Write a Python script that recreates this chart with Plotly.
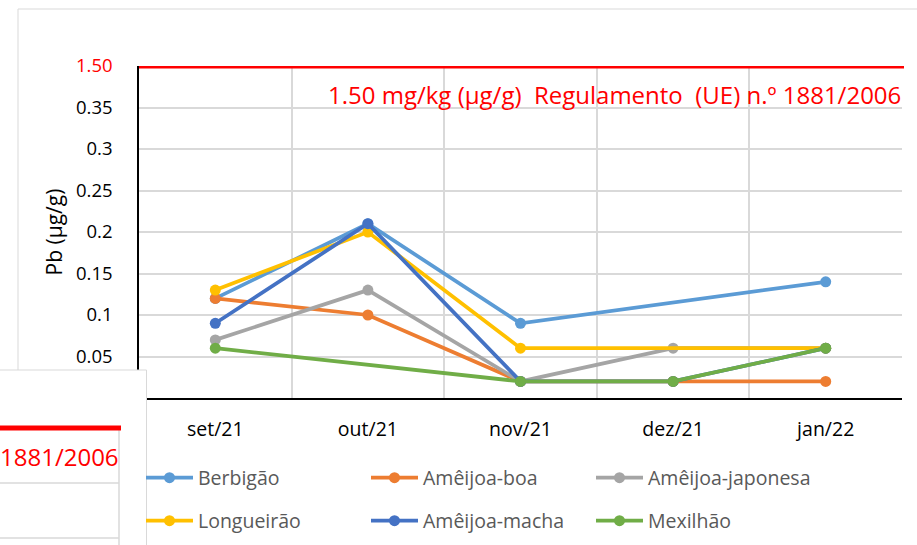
import plotly.graph_objects as go

# ---- data ----
months = ["set/21", "out/21", "nov/21", "dez/21", "jan/22"]
berbigao = [0.12, 0.21, 0.09, None, 0.14]
ameijoa_boa = [0.12, 0.10, 0.02, 0.02, 0.02]
ameijoa_japonesa = [0.07, 0.13, 0.02, 0.06, 0.06]
longueirao = [0.13, 0.20, 0.06, None, 0.06]
ameijoa_macha = [0.09, 0.21, 0.02, 0.02, 0.06]
mexilhao = [0.06, None, 0.02, 0.02, 0.06]

y_ticks = [0.05, 0.10, 0.15, 0.20, 0.25, 0.30, 0.35, 0.40]
y_ticktext = ["0.05", "0.1", "0.15", "0.2", "0.25", "0.3", "0.35",
              "<span style='color:#ff0000'>1.50</span>"]
limit_pos = 0.40  # broken-axis position where the 1.50 limit is drawn
limit_label = "1.50 mg/kg (µg/g)  Regulamento  (UE) n.º 1881/2006"

series = [
    ("Berbigão", berbigao, "#5B9BD5", "legend"),
    ("Amêijoa-boa", ameijoa_boa, "#ED7D31", "legend"),
    ("Amêijoa-japonesa", ameijoa_japonesa, "#A5A5A5", "legend"),
    ("Longueirão", longueirao, "#FFC000", "legend2"),
    ("Amêijoa-macha", ameijoa_macha, "#4472C4", "legend2"),
    ("Mexilhão", mexilhao, "#70AD47", "legend2"),
]

FONT = "Open Sans"
W, H = 917, 545
L, R, T, B = 139, 15, 66, 147
PW, PH = W - L - R, H - T - B


def px(x):
    return (x - L) / PW


def py(y):
    return (H - B - y) / PH


x_idx = list(range(len(months)))

fig = go.Figure()
for name, vals, color, leg in series:
    fig.add_trace(go.Scatter(
        x=x_idx, y=vals, name=name, mode="lines+markers",
        line=dict(color=color, width=3.75),
        marker=dict(color=color, size=11),
        connectgaps=True, legend=leg,
    ))

shapes = [
    # limit line
    dict(type="line", xref="paper", yref="y", x0=0, x1=px(904),
         y0=limit_pos, y1=limit_pos, line=dict(color="#ff0000", width=5)),
    # chart area border
    dict(type="line", xref="paper", yref="paper", x0=px(18), x1=px(920),
         y0=py(9), y1=py(9), line=dict(color="#d9d9d9", width=1)),
    dict(type="line", xref="paper", yref="paper", x0=px(18), x1=px(18),
         y0=py(9), y1=py(370), line=dict(color="#d9d9d9", width=1)),
    # overlapping fragment box (bottom-left)
    dict(type="rect", xref="paper", yref="paper", layer="above",
         x0=px(-2), x1=px(146.5), y0=py(370), y1=py(547),
         fillcolor="white", line=dict(color="#d9d9d9", width=1)),
    dict(type="line", xref="paper", yref="paper", layer="above",
         x0=px(-2), x1=px(119), y0=py(483), y1=py(483),
         line=dict(color="#d9d9d9", width=1.5)),
    dict(type="line", xref="paper", yref="paper", layer="above",
         x0=px(-2), x1=px(119), y0=py(538), y1=py(538),
         line=dict(color="#d9d9d9", width=1.5)),
    dict(type="line", xref="paper", yref="paper", layer="above",
         x0=px(119), x1=px(119), y0=py(430), y1=py(547),
         line=dict(color="#d9d9d9", width=1.5)),
    dict(type="line", xref="paper", yref="paper", layer="above",
         x0=px(-2), x1=px(121), y0=py(428), y1=py(428),
         line=dict(color="#ff0000", width=5)),
]

annotations = [
    dict(text=limit_label, xref="paper", yref="paper", x=px(903), y=py(94),
         xanchor="right", yanchor="middle", showarrow=False,
         font=dict(family=FONT, size=24, color="#ff0000")),
    dict(text="1881/2006", xref="paper", yref="paper", x=px(121), y=py(456),
         xanchor="right", yanchor="middle", showarrow=False,
         font=dict(family=FONT, size=24, color="#ff0000")),
]

legend_common = dict(
    orientation="h", xref="container", yref="container",
    xanchor="left", yanchor="middle", entrywidth=163, entrywidthmode="pixels",
    itemwidth=47, bgcolor="rgba(0,0,0,0)", borderwidth=0,
    font=dict(family=FONT, size=19.5, color="#595959"),
)

fig.update_layout(
    width=W, height=H,
    margin=dict(l=L, r=R, t=T, b=B, pad=0, autoexpand=False),
    paper_bgcolor="white", plot_bgcolor="white",
    font=dict(family=FONT, color="#000000"),
    showlegend=True,
    legend=dict(x=141 / W, y=1 - 478 / H, **legend_common),
    legend2=dict(x=141 / W, y=1 - 521 / H, **legend_common),
    shapes=shapes, annotations=annotations,
    xaxis=dict(
        range=[-0.5, 4.5], tickmode="array", tickvals=x_idx, ticktext=months,
        showgrid=False, zeroline=False, showline=True, linecolor="#000000",
        linewidth=1.5, ticks="", ticklabelstandoff=13,
        tickfont=dict(family=FONT, size=19.5, color="#000000"),
        minor=dict(tickmode="linear", tick0=0.5, dtick=1, showgrid=True,
                   gridcolor="#d9d9d9", gridwidth=1.5),
    ),
    yaxis=dict(
        range=[0, 0.40], tickmode="array", tickvals=y_ticks, ticktext=y_ticktext,
        showgrid=True, gridcolor="#d9d9d9", gridwidth=1.5, zeroline=False,
        showline=True, linecolor="#000000", linewidth=1.5, ticks="",
        ticklabelstandoff=21,
        tickfont=dict(family=FONT, size=18.5, color="#000000"),
        title=dict(text="Pb (µg/g)", standoff=8,
                   font=dict(family=FONT, size=21, color="#000000")),
    ),
)

fig.write_html("out.html", config={"displayModeBar": False},
               post_script="document.body.style.margin='0';")
